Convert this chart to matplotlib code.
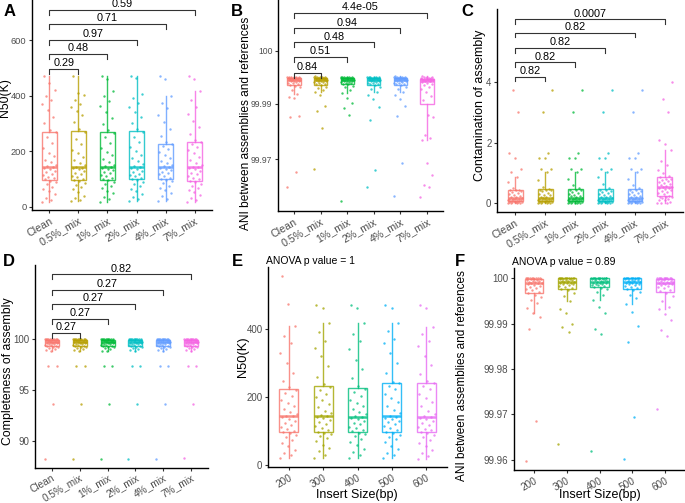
import numpy as np
import matplotlib.pyplot as plt
from matplotlib.transforms import ScaledTranslation

plt.rcParams['font.family'] = ['Liberation Sans', 'DejaVu Sans']

# ---- data ----
mix_labels = ['Clean', '0.5%_mix', '1%_mix', '2%_mix', '4%_mix', '7%_mix']
insert_labels = ['200', '300', '400', '500', '600']
mix_colors = ['#F8766D', '#B79F00', '#00BA38', '#00BFC4', '#619CFF', '#F564E3']
insert_colors = ['#F8766D', '#A3A500', '#00BF7D', '#00B0F6', '#E76BF3']

# A: N50(K) by contamination level
n50_clean = [18, 25, 33, 45, 55, 65, 72, 80, 88, 94, 98, 102, 108, 113, 118, 124, 130, 135, 140, 143,
             146, 152, 160, 170, 182, 195, 210, 228, 250, 268, 275, 300, 325, 350, 370, 385, 400, 420, 445, 470]
n50_05 = [20, 24, 30, 40, 52, 62, 70, 78, 86, 93, 97, 101, 106, 112, 117, 122, 128, 134, 138, 141,
          143, 150, 158, 168, 180, 192, 206, 225, 245, 268, 280, 305, 330, 345, 360, 370, 385, 402, 410, 470]
n50_1 = [18, 26, 35, 48, 58, 66, 74, 82, 90, 95, 98, 103, 109, 114, 120, 126, 131, 136, 140, 142,
         145, 151, 161, 172, 185, 198, 212, 230, 250, 267, 276, 298, 318, 340, 362, 380, 400, 418, 460, 470]
n50_2 = [19, 27, 36, 46, 56, 64, 73, 81, 89, 95, 99, 104, 110, 115, 119, 125, 130, 135, 139, 142,
         146, 153, 163, 174, 186, 200, 215, 232, 252, 270, 280, 300, 322, 340, 360, 372, 390, 405, 465, 470]
n50_4 = [20, 28, 38, 50, 60, 68, 76, 84, 91, 96, 99, 104, 110, 116, 121, 126, 131, 136, 140, 142,
         145, 150, 158, 166, 175, 186, 196, 208, 218, 225, 232, 255, 280, 305, 330, 355, 375, 400, 460, 470]
n50_7 = [18, 24, 32, 42, 52, 60, 68, 76, 83, 88, 92, 98, 105, 111, 117, 123, 129, 134, 139, 142,
         144, 150, 158, 168, 180, 192, 205, 215, 226, 232, 240, 262, 288, 310, 335, 360, 385, 418, 460, 470]

# B: ANI by contamination level
ani_clean = [99.9598, 99.9653, 99.9851, 99.9856, 99.9920, 99.9925, 99.9935, 99.9950, 99.9960, 99.9967,
             99.9970, 99.9973, 99.9976, 99.9978, 99.9980, 99.9982, 99.9984, 99.9985, 99.9986, 99.9987,
             99.9988, 99.9989, 99.9990, 99.9991, 99.9992, 99.9992, 99.9993, 99.9993, 99.9994, 99.9994,
             99.9995, 99.9995, 99.9996, 99.9996, 99.9997, 99.9997, 99.9998, 99.9998, 99.9999, 99.9999]
ani_05 = [99.9664, 99.9813, 99.9875, 99.9893, 99.9933, 99.9945, 99.9951, 99.9958, 99.9963, 99.9968,
          99.9971, 99.9974, 99.9977, 99.9979, 99.9981, 99.9983, 99.9984, 99.9985, 99.9986, 99.9987,
          99.9988, 99.9989, 99.9990, 99.9990, 99.9991, 99.9992, 99.9993, 99.9993, 99.9994, 99.9994,
          99.9995, 99.9995, 99.9996, 99.9996, 99.9997, 99.9997, 99.9998, 99.9998, 99.9999, 100.0]
ani_1 = [99.9547, 99.9860, 99.9886, 99.9904, 99.9922, 99.9940, 99.9951, 99.9960, 99.9966, 99.9971,
         99.9973, 99.9975, 99.9977, 99.9979, 99.9981, 99.9983, 99.9984, 99.9985, 99.9986, 99.9987,
         99.9988, 99.9989, 99.9990, 99.9991, 99.9991, 99.9992, 99.9993, 99.9993, 99.9994, 99.9994,
         99.9995, 99.9995, 99.9996, 99.9996, 99.9997, 99.9997, 99.9998, 99.9998, 99.9999, 99.9999]
ani_2 = [99.9598, 99.9660, 99.9842, 99.9889, 99.9918, 99.9932, 99.9945, 99.9955, 99.9963, 99.9969,
         99.9971, 99.9974, 99.9976, 99.9978, 99.9980, 99.9982, 99.9984, 99.9985, 99.9986, 99.9987,
         99.9988, 99.9989, 99.9990, 99.9991, 99.9992, 99.9992, 99.9993, 99.9993, 99.9994, 99.9994,
         99.9995, 99.9995, 99.9996, 99.9996, 99.9997, 99.9997, 99.9998, 99.9998, 99.9999, 99.9999]
ani_4 = [99.9566, 99.9686, 99.9856, 99.9893, 99.9918, 99.9933, 99.9945, 99.9955, 99.9963, 99.9969,
         99.9971, 99.9974, 99.9976, 99.9978, 99.9980, 99.9982, 99.9984, 99.9985, 99.9986, 99.9987,
         99.9988, 99.9989, 99.9990, 99.9991, 99.9991, 99.9992, 99.9993, 99.9993, 99.9994, 99.9994,
         99.9995, 99.9995, 99.9996, 99.9996, 99.9997, 99.9997, 99.9998, 99.9998, 99.9999, 100.0]
ani_7 = [99.9562, 99.9598, 99.9606, 99.9642, 99.9686, 99.9769, 99.9776, 99.9787, 99.9853, 99.9860,
         99.9913, 99.9930, 99.9945, 99.9955, 99.9962, 99.9968, 99.9973, 99.9977, 99.9980, 99.9983,
         99.9985, 99.9986, 99.9987, 99.9988, 99.9989, 99.9989, 99.9990, 99.9990, 99.9991, 99.9991,
         99.9991, 99.9992, 99.9993, 99.9994, 99.9995, 99.9996, 99.9997, 99.9998, 99.9999, 100.0]

# C: contamination of assembly
cont_clean = [0, 0, 0, 0.02, 0.03, 0.04, 0.04, 0.05, 0.05, 0.05, 0.06, 0.07, 0.08, 0.09, 0.1, 0.11, 0.12,
              0.13, 0.14, 0.14, 0.15, 0.17, 0.2, 0.22, 0.25, 0.28, 0.3, 0.33, 0.38, 0.4, 0.42, 0.42, 0.45,
              0.5, 0.7, 0.85, 1.02, 1.13, 1.48, 1.67, 3.0, 3.73]
cont_05 = [0, 0, 0, 0.02, 0.03, 0.03, 0.04, 0.05, 0.05, 0.06, 0.06, 0.07, 0.08, 0.09, 0.1, 0.11, 0.12,
           0.13, 0.14, 0.15, 0.16, 0.18, 0.2, 0.22, 0.26, 0.28, 0.31, 0.35, 0.4, 0.42, 0.42, 0.44, 0.48,
           0.55, 0.75, 1.02, 1.13, 1.13, 1.48, 1.48, 1.67, 3.0, 3.73]
cont_1 = [0, 0, 0, 0.01, 0.02, 0.03, 0.04, 0.05, 0.05, 0.06, 0.06, 0.07, 0.08, 0.09, 0.1, 0.1, 0.12,
          0.13, 0.14, 0.14, 0.15, 0.17, 0.2, 0.23, 0.25, 0.28, 0.3, 0.34, 0.38, 0.42, 0.42, 0.45, 0.5,
          0.6, 0.8, 1.02, 1.13, 1.13, 1.48, 1.48, 1.67, 3.0, 3.73]
cont_2 = [0, 0, 0, 0.02, 0.03, 0.04, 0.04, 0.05, 0.05, 0.05, 0.06, 0.07, 0.08, 0.09, 0.1, 0.11, 0.12,
          0.13, 0.14, 0.14, 0.15, 0.18, 0.2, 0.22, 0.25, 0.28, 0.3, 0.33, 0.38, 0.41, 0.42, 0.45, 0.5,
          0.65, 0.85, 1.02, 1.13, 1.13, 1.48, 1.48, 1.67, 3.0, 3.73]
cont_4 = [0, 0, 0, 0.02, 0.03, 0.04, 0.04, 0.05, 0.05, 0.05, 0.06, 0.07, 0.08, 0.09, 0.1, 0.11, 0.12,
          0.13, 0.14, 0.14, 0.15, 0.18, 0.2, 0.22, 0.25, 0.28, 0.3, 0.33, 0.38, 0.41, 0.42, 0.45, 0.5,
          0.6, 0.8, 1.02, 1.13, 1.13, 1.48, 1.48, 1.67, 3.0, 3.73]
cont_7 = [0, 0, 0.02, 0.05, 0.1, 0.12, 0.15, 0.18, 0.19, 0.2, 0.21, 0.25, 0.3, 0.33, 0.36, 0.4, 0.43,
          0.46, 0.5, 0.51, 0.53, 0.55, 0.58, 0.6, 0.63, 0.66, 0.7, 0.73, 0.77, 0.8, 0.81, 0.85, 0.9,
          1.0, 1.1, 1.25, 1.38, 1.76, 1.96, 2.07, 3.0, 3.44, 4.01]

# D: completeness of assembly
comp_clean = [88.2, 93.6, 97.3, 97.35, 98.8, 98.9, 99.0, 99.1, 99.2, 99.25, 99.3, 99.35, 99.4, 99.45,
              99.5, 99.55, 99.6, 99.62, 99.65, 99.68, 99.7, 99.72, 99.75, 99.78, 99.8, 99.82, 99.85,
              99.88, 99.9, 99.92, 99.95, 99.96, 99.97, 99.98, 99.99, 100, 100, 100, 100, 100]
comp_05 = [88.2, 93.6, 97.3, 97.35, 98.85, 98.9, 99.0, 99.1, 99.2, 99.25, 99.3, 99.35, 99.4, 99.45,
           99.5, 99.55, 99.6, 99.63, 99.66, 99.68, 99.7, 99.72, 99.75, 99.78, 99.8, 99.82, 99.85,
           99.88, 99.9, 99.92, 99.95, 99.96, 99.97, 99.98, 99.99, 100, 100, 100, 100, 100]
comp_1 = [88.2, 93.6, 97.3, 97.35, 98.8, 98.85, 99.0, 99.1, 99.2, 99.25, 99.3, 99.35, 99.4, 99.45,
          99.5, 99.55, 99.6, 99.62, 99.65, 99.68, 99.7, 99.72, 99.75, 99.78, 99.8, 99.82, 99.85,
          99.88, 99.9, 99.92, 99.95, 99.96, 99.97, 99.98, 99.99, 100, 100, 100, 100, 100]
comp_2 = [88.2, 93.6, 97.3, 97.35, 98.85, 98.9, 99.0, 99.1, 99.2, 99.25, 99.3, 99.35, 99.4, 99.45,
          99.5, 99.55, 99.6, 99.62, 99.65, 99.68, 99.7, 99.72, 99.75, 99.78, 99.8, 99.82, 99.85,
          99.88, 99.9, 99.92, 99.95, 99.96, 99.97, 99.98, 99.99, 100, 100, 100, 100, 100]
comp_4 = [88.2, 93.6, 97.3, 97.35, 98.85, 98.9, 99.0, 99.1, 99.2, 99.25, 99.3, 99.35, 99.4, 99.45,
          99.5, 99.55, 99.6, 99.62, 99.65, 99.68, 99.7, 99.72, 99.75, 99.78, 99.8, 99.82, 99.85,
          99.88, 99.9, 99.92, 99.95, 99.96, 99.97, 99.98, 99.99, 100, 100, 100, 100, 100]
comp_7 = [88.3, 93.6, 97.3, 97.35, 98.8, 98.9, 99.0, 99.1, 99.2, 99.25, 99.3, 99.35, 99.4, 99.45,
          99.5, 99.55, 99.6, 99.62, 99.65, 99.68, 99.7, 99.72, 99.75, 99.78, 99.8, 99.82, 99.85,
          99.88, 99.9, 99.92, 99.95, 99.96, 99.97, 99.98, 99.99, 100, 100, 100, 100, 100]

# E: N50(K) by insert size
n50_i200 = [20, 28, 36, 45, 55, 65, 74, 82, 88, 93, 97, 101, 106, 112, 118, 124, 130, 136, 140, 143,
            145, 150, 157, 165, 174, 183, 192, 202, 212, 221, 228, 248, 270, 300, 330, 360, 380, 410, 474, 556]
n50_i300 = [20, 30, 40, 50, 60, 70, 78, 85, 90, 94, 98, 102, 108, 114, 120, 126, 132, 137, 141, 143,
            146, 152, 160, 170, 180, 190, 200, 210, 220, 230, 238, 260, 290, 320, 345, 365, 390, 417, 460, 470]
n50_i400 = [20, 29, 38, 48, 58, 68, 76, 84, 90, 95, 99, 103, 108, 113, 119, 124, 130, 135, 139, 141,
            143, 149, 156, 164, 173, 182, 192, 204, 214, 224, 232, 255, 282, 310, 340, 365, 385, 417, 460, 470]
n50_i500 = [20, 28, 36, 46, 57, 67, 75, 83, 89, 94, 98, 102, 108, 114, 119, 125, 130, 135, 139, 141,
            144, 152, 162, 174, 186, 198, 210, 222, 232, 240, 245, 270, 300, 330, 360, 370, 395, 417, 462, 470]
n50_i600 = [18, 26, 35, 45, 56, 66, 74, 82, 89, 94, 98, 102, 107, 113, 118, 124, 129, 134, 138, 141,
            143, 150, 160, 172, 185, 197, 210, 222, 232, 240, 246, 268, 295, 320, 350, 365, 385, 405, 462, 470]

# F: ANI by insert size
ani_i200 = [99.9598, 99.9686, 99.9888, 99.9915, 99.9922, 99.9935, 99.9945, 99.9952, 99.9958, 99.9963,
            99.9967, 99.9970, 99.9973, 99.9976, 99.9979, 99.9981, 99.9983, 99.9985, 99.9987, 99.9988,
            99.9989, 99.9990, 99.9991, 99.9992, 99.9993, 99.9994, 99.9995, 99.9996, 99.9997, 99.9998,
            99.9998, 99.9999, 99.9999, 100, 100, 100, 100, 100, 100, 100]
ani_i300 = [99.9635, 99.9882, 99.9892, 99.9899, 99.9922, 99.9931, 99.9950, 99.9960, 99.9968, 99.9973,
            99.9976, 99.9978, 99.9980, 99.9982, 99.9984, 99.9986, 99.9987, 99.9988, 99.9989, 99.9990,
            99.9991, 99.9992, 99.9993, 99.9994, 99.9995, 99.9996, 99.9997, 99.9998, 99.9998, 99.9999,
            99.9999, 100, 100, 100, 100, 100, 100, 100, 100, 100]
ani_i400 = [99.9620, 99.9878, 99.9889, 99.9922, 99.9936, 99.9952, 99.9962, 99.9970, 99.9975, 99.9978,
            99.9980, 99.9982, 99.9984, 99.9985, 99.9986, 99.9987, 99.9988, 99.9989, 99.9990, 99.9991,
            99.9992, 99.9993, 99.9994, 99.9995, 99.9996, 99.9997, 99.9997, 99.9998, 99.9998, 99.9999,
            99.9999, 100, 100, 100, 100, 100, 100, 100, 100, 100]
ani_i500 = [99.9602, 99.9695, 99.9860, 99.9894, 99.9925, 99.9942, 99.9955, 99.9963, 99.9969, 99.9973,
            99.9976, 99.9978, 99.9980, 99.9982, 99.9984, 99.9986, 99.9987, 99.9988, 99.9989, 99.9990,
            99.9991, 99.9992, 99.9993, 99.9994, 99.9995, 99.9996, 99.9997, 99.9998, 99.9998, 99.9999,
            99.9999, 100, 100, 100, 100, 100, 100, 100, 100, 100]
ani_i600 = [99.9711, 99.9873, 99.9885, 99.9908, 99.9920, 99.9932, 99.9937, 99.9950, 99.9960, 99.9967,
            99.9971, 99.9974, 99.9977, 99.9980, 99.9982, 99.9984, 99.9986, 99.9987, 99.9988, 99.9989,
            99.9990, 99.9991, 99.9992, 99.9993, 99.9994, 99.9995, 99.9996, 99.9997, 99.9998, 99.9998,
            99.9999, 100, 100, 100, 100, 100, 100, 100, 100, 100]

# significance labels (Clean vs each mix level)
p_a = ['0.29', '0.48', '0.97', '0.71', '0.59']
p_b = ['0.84', '0.51', '0.48', '0.94', '4.4e-05']
p_c = ['0.82', '0.82', '0.82', '0.82', '0.0007']
p_d = ['0.27', '0.27', '0.27', '0.27', '0.82']

# ---- figure ----
W, H = 685, 503
fig = plt.figure(figsize=(W / 100, H / 100), dpi=100)
shift = ScaledTranslation(0.045, 0, fig.dpi_scale_trans)


def add_ax(left, top, right, bottom):
    return fig.add_axes([left / W, 1 - bottom / H, (right - left) / W, (bottom - top) / H])


def draw_box(ax, groups, colors, labels, xsize, ysize=7, width=0.5, xpad=1.5):
    pos = np.arange(1, len(groups) + 1)
    for i, (vals, c) in enumerate(zip(groups, colors)):
        vals = np.asarray(vals, dtype=float)
        jit = ((np.arange(len(vals)) * 0.618034) % 1 - 0.5) * 0.5
        ax.scatter(pos[i] + jit, vals, s=3, color=c, alpha=0.75, lw=0, zorder=3)
        ax.boxplot([vals], positions=[pos[i]], widths=width, showfliers=False, showcaps=False,
                   patch_artist=True,
                   boxprops=dict(facecolor='none', edgecolor=c, lw=1.0, alpha=0.8),
                   whiskerprops=dict(color=c, lw=1.0, alpha=0.8),
                   medianprops=dict(color=c, lw=1.8, alpha=0.8))
    ax.set_xlim(0.4, len(groups) + 0.6)
    ax.set_xticks(pos)
    ax.set_xticklabels(labels, rotation=30, ha='right', va='top', rotation_mode='anchor',
                       fontsize=xsize)
    for t in ax.get_xticklabels():
        t.set_transform(t.get_transform() + shift)
    for s in ['top', 'right']:
        ax.spines[s].set_visible(False)
    for s in ['left', 'bottom']:
        ax.spines[s].set_linewidth(1.0)
    ax.tick_params(length=2.5, width=0.8, color='#333333', labelcolor='#4D4D4D', pad=1.5)
    ax.tick_params(axis='x', pad=xpad)
    ax.tick_params(axis='y', labelsize=ysize)
    ax.set_facecolor('none')


def brackets(ax, ys, labels, tick):
    for j, (y, lab) in enumerate(zip(ys, labels)):
        x2 = j + 2
        ax.plot([1, 1, x2, x2], [y - tick, y, y, y - tick], color='#333333', lw=0.8,
                clip_on=False, zorder=4)
        ax.text((1 + x2) / 2, y + tick * 0.15, lab, ha='center', va='bottom',
                fontsize=7.8, color='black', clip_on=False)


# A
axA = add_ax(32, 0, 212, 210)
draw_box(axA, [n50_clean, n50_05, n50_1, n50_2, n50_4, n50_7], mix_colors, mix_labels, 7.7, 6.7)
axA.set_ylim(-12, 745)
axA.set_yticks([0, 200, 400, 600])
brackets(axA, [496, 550, 601, 658, 709], p_a, 18)

# B
axB = add_ax(278, 0, 443, 211)
draw_box(axB, [ani_clean, ani_05, ani_1, ani_2, ani_4, ani_7], mix_colors, mix_labels, 7.7, 6.2)
axB.set_ylim(99.9511, 100.0278)
axB.set_yticks([99.97, 99.99, 100.0093])
axB.set_yticklabels(['99.97', '99.99', '100'])
brackets(axB, [100.0012, 100.0072, 100.01244, 100.01753, 100.0232], p_b, 0.0018)

# C
axC = add_ax(497, 9, 683, 212)
draw_box(axC, [cont_clean, cont_05, cont_1, cont_2, cont_4, cont_7], mix_colors, mix_labels, 7.7)
axC.set_ylim(-0.29, 6.41)
axC.set_yticks([0, 2, 4])
brackets(axC, [4.18, 4.65, 5.12, 5.63, 6.07], p_c, 0.16)

# D
axD = add_ax(35, 265, 208, 468)
draw_box(axD, [comp_clean, comp_05, comp_1, comp_2, comp_4, comp_7], mix_colors, mix_labels,
         7.3, xpad=0.8)
axD.set_ylim(87.35, 107.25)
axD.set_yticks([90, 95, 100])
brackets(axD, [100.62, 101.96, 103.43, 104.8, 106.34], p_d, 0.48)

# E
axE = add_ax(268, 267, 447, 467)
draw_box(axE, [n50_i200, n50_i300, n50_i400, n50_i500, n50_i600], insert_colors, insert_labels,
         7.2, 7, 0.55)
axE.set_ylim(-6, 582)
axE.set_yticks([0, 200, 400])
axE.set_title('ANOVA p value = 1', loc='left', fontsize=7.5, pad=2, x=-0.01)

# F
axF = add_ax(514, 268, 685, 470)
draw_box(axF, [ani_i200, ani_i300, ani_i400, ani_i500, ani_i600], insert_colors, insert_labels,
         7.2, 7, 0.55)
axF.set_ylim(99.9578, 100.0022)
axF.set_yticks([99.96, 99.97, 99.98, 99.99, 100.0])
axF.set_yticklabels(['99.96', '99.97', '99.98', '99.99', '100'])
axF.set_title('ANOVA p value = 0.89', loc='left', fontsize=7.5, pad=2, x=-0.01)

# axis titles
ylab = [('N50(K)', 5.5, 98, 8.8), ('ANI between assemblies and references', 246, 123, 8.6),
        ('Contamination of assembly', 480, 105, 9), ('Completeness of assembly', 8, 371, 8.8),
        ('N50(K)', 243, 357, 9.3), ('ANI between assemblies and references', 462, 376, 8.5)]
for txt, x, y, fs in ylab:
    fig.text(x / W, 1 - y / H, txt, rotation=90, ha='center', va='center', fontsize=fs)

for x in [357, 600]:
    fig.text(x / W, 1 - 495 / H, 'Insert Size(bp)', ha='center', va='center', fontsize=9)

letters = [('A', 4, 11), ('B', 231, 11), ('C', 461, 11), ('D', 3, 261), ('E', 232, 262), ('F', 455, 261)]
for lab, x, y in letters:
    fig.text(x / W, 1 - y / H, lab, ha='left', va='center', fontsize=12, fontweight='bold')

fig.savefig('out.png', dpi=100)
